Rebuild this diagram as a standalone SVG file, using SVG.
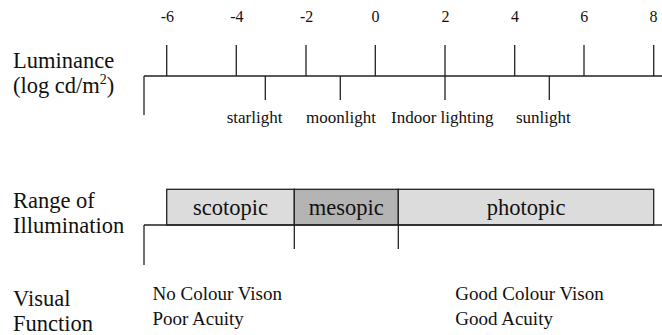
<svg xmlns="http://www.w3.org/2000/svg" width="662" height="335" viewBox="0 0 662 335">
  <style>
    text { font-family: "Liberation Serif", "Times New Roman", serif; fill: #111; }
    .head { font-size: 22.5px; }
    .num { font-size: 16px; text-anchor: middle; }
    .lbl { font-size: 17px; }
    .band { font-size: 22.5px; text-anchor: middle; }
    .vf { font-size: 19px; }
    .ln { stroke: #222; stroke-width: 1.3; fill: none; }
    .box { stroke: #222; stroke-width: 1.3; }
  </style>
  <rect width="662" height="335" fill="#fff"/>

  <!-- row headings -->
  <g id="lum-heading">
    <text class="head" x="13" y="68">Luminance</text>
    <text class="head" x="13" y="93">(log cd/m<tspan font-size="14" dy="-9">2</tspan><tspan dy="9">)</tspan></text>
  </g>
  <g id="range-heading">
    <text class="head" x="13" y="208">Range of</text>
    <text class="head" x="13" y="233">Illumination</text>
  </g>
  <g id="visual-heading">
    <text class="head" x="13" y="306">Visual</text>
    <text class="head" x="13" y="331">Function</text>
  </g>

  <!-- luminance scale -->
  <g id="scale">
    <path class="ln" d="M144,76 H662 M144,76 V115"/>
    <path class="ln" d="M166.7,45 V76 M236.3,45 V76 M306,45 V76 M375.3,45 V76 M445,45 V100 M514.7,45 V76 M584,45 V76 M653.7,45 V76"/>
    <path class="ln" d="M265.3,76 V100 M340.3,76 V100 M549.3,76 V100"/>
    <text class="num" x="167.3" y="22">-6</text>
    <text class="num" x="236.9" y="22">-4</text>
    <text class="num" x="306.6" y="22">-2</text>
    <text class="num" x="375.6" y="22">0</text>
    <text class="num" x="445.6" y="22">2</text>
    <text class="num" x="514.9" y="22">4</text>
    <text class="num" x="584.2" y="22">6</text>
    <text class="num" x="653.4" y="22">8</text>
  </g>
  <g id="sources">
    <text class="lbl" x="226.7" y="122.5">starlight</text>
    <text class="lbl" x="306" y="122.5">moonlight</text>
    <text class="lbl" x="391" y="122.5">Indoor lighting</text>
    <text class="lbl" x="516" y="122.5">sunlight</text>
  </g>

  <!-- illumination bands -->
  <g id="scotopic">
    <rect class="box" x="166.7" y="189.3" width="127.6" height="35.7" fill="#dcdcdc"/>
    <text class="band" x="230.5" y="215">scotopic</text>
  </g>
  <g id="mesopic">
    <rect class="box" x="294.3" y="189.3" width="104" height="35.7" fill="#b4b4b4"/>
    <text class="band" x="346.3" y="215">mesopic</text>
  </g>
  <g id="photopic">
    <rect class="box" x="398.3" y="189.3" width="255.4" height="35.7" fill="#dcdcdc"/>
    <text class="band" x="526" y="215">photopic</text>
  </g>
  <g id="band-axis">
    <path class="ln" d="M144,225 H662 M144,225 V265 M294.3,225 V249 M398.3,225 V249"/>
  </g>

  <!-- visual function notes -->
  <g id="vision-low">
    <text class="vf" x="152.5" y="300">No Colour Vison</text>
    <text class="vf" x="152.5" y="325">Poor Acuity</text>
  </g>
  <g id="vision-high">
    <text class="vf" x="455.3" y="300">Good Colour Vison</text>
    <text class="vf" x="455.3" y="325">Good Acuity</text>
  </g>
</svg>
